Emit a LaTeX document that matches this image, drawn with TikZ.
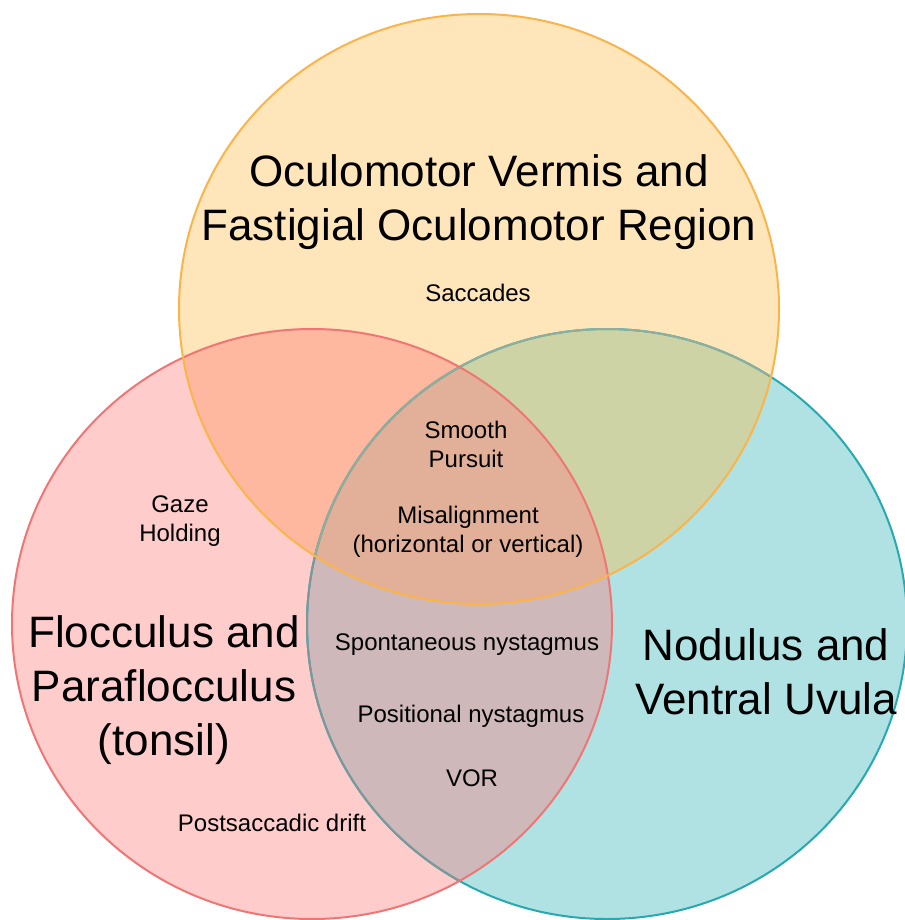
\documentclass[tikz,border=0pt]{standalone}
\usepackage{fontspec}
\setmainfont{Liberation Sans}
\definecolor{topfill}{HTML}{FFE5BA}
\definecolor{leftfill}{HTML}{FFCCCC}
\definecolor{rightfill}{HTML}{B0E2E4}
\definecolor{tlfill}{HTML}{FFB8A0}
\definecolor{trfill}{HTML}{CDD3A5}
\definecolor{lrfill}{HTML}{CEB8BA}
\definecolor{allfill}{HTML}{E2B098}
\definecolor{topline}{HTML}{FBB44A}
\definecolor{leftline}{HTML}{F07575}
\definecolor{rightline}{HTML}{26A9B0}
\begin{document}
\begin{tikzpicture}[x=1pt,y=-1pt,
  big/.style={align=center,inner sep=0pt,font=\fontsize{44}{54}\selectfont,text=black},
  small/.style={align=center,inner sep=0pt,font=\fontsize{24}{29}\selectfont,text=black},
  rim/.style={line width=2pt}]
\useasboundingbox (0,0) rectangle (904,920);
\def\topE{(479,309) ellipse [x radius=300, y radius=295]}
\def\leftE{(312,624) ellipse [x radius=300, y radius=295]}
\def\rightE{(607,624) ellipse [x radius=300, y radius=295]}
% base fills
\fill[leftfill] \leftE;
\fill[rightfill] \rightE;
\fill[topfill] \topE;
% overlaps
\begin{scope}\clip \leftE; \fill[tlfill] \topE;\end{scope}
\begin{scope}\clip \rightE; \fill[trfill] \topE;\end{scope}
\begin{scope}\clip \leftE; \fill[lrfill] \rightE;\end{scope}
\begin{scope}\clip \leftE; \clip \rightE; \fill[allfill] \topE;\end{scope}
% outlines
\draw[rim,rightline] \rightE;
\begin{scope}\clip \leftE; \draw[rim,rightline!45!leftfill!80!black] \rightE;\end{scope}
\begin{scope}\clip \topE; \draw[rim,rightline!40!topfill!85!black] \rightE;\end{scope}
\draw[rim,leftline] \leftE;
\draw[rim,topline] \topE;
% texts
\node[big] (tTop) at (479,202) {Oculomotor Vermis and\\Fastigial Oculomotor Region};
\node[small] (tSacc) at (478,293) {Saccades};
\node[small] (tSmooth) at (466,444) {Smooth\\Pursuit};
\node[small] (tMis) at (468,532) {Misalignment\\(horizontal or vertical)};
\node[small] (tGaze) at (180,521) {Gaze\\Holding};
\node[big] (tLeft) at (164,690) {Flocculus and\\Paraflocculus\\(tonsil)};
\node[small] (tSpont) at (467,645) {Spontaneous nystagmus};
\node[small] (tPos) at (471,716) {Positional nystagmus};
\node[small] (tVor) at (472,778) {VOR};
\node[small] (tPost) at (272,823) {Postsaccadic drift};
\node[big] (tRight) at (766,672) {Nodulus and\\Ventral Uvula};
\end{tikzpicture}
\end{document}
